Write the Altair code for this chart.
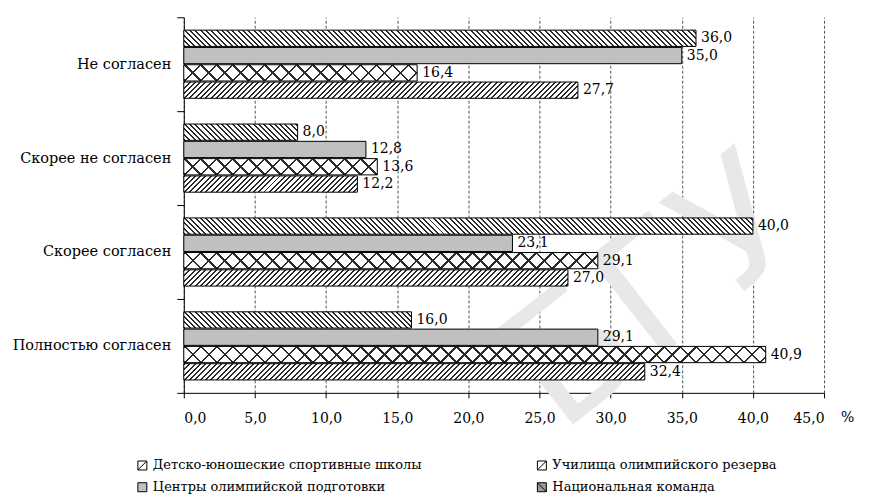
import altair as alt
import pandas as pd

# ---- data ----
categories = ["Не согласен", "Скорее не согласен", "Скорее согласен", "Полностью согласен"]
series_order = [
    "Национальная команда",
    "Центры олимпийской подготовки",
    "Училища олимпийского резерва",
    "Детско-юношеские спортивные школы",
]
# legend entries (laid out column by column)
legend_order = [
    "Детско-юношеские спортивные школы",
    "Центры олимпийской подготовки",
    "Училища олимпийского резерва",
    "Национальная команда",
]
nk = [36.0, 8.0, 40.0, 16.0]
cop = [35.0, 12.8, 23.1, 29.1]
uor = [16.4, 13.6, 29.1, 40.9]
dyussh = [27.7, 12.2, 27.0, 32.4]
x_ticks = [0, 5, 10, 15, 20, 25, 30, 35, 40, 45]
watermark = ["БГУ"]

rows = []
for s, vals in zip(series_order, [nk, cop, uor, dyussh]):
    for c, v in zip(categories, vals):
        rows.append({"cat": c, "series": s, "value": v})
df = pd.DataFrame(rows)

# ---- layout ----
PLOT_W, PLOT_H = 641, 376
X_MAX = 45
FONT = "DejaVu Serif"
PAD_IN, PAD_OUT = 0.06, 0.745
band = PLOT_H / len(categories)
step = band / (len(series_order) - PAD_IN + 2 * PAD_OUT)
BAR_H = step * (1 - PAD_IN)

x_scale = alt.Scale(domain=[0, X_MAX], nice=False, zero=True)
y_scale = alt.Scale(domain=categories, paddingInner=0, paddingOuter=0)
yo_scale = alt.Scale(domain=series_order, paddingInner=PAD_IN, paddingOuter=PAD_OUT)


def hatch(width_px, period, dark_w, dark, light, kind):
    W, H = max(width_px, 1.0), BAR_H
    L = W + H
    c = L / (W * W + H * H)
    if kind == "fwd":
        x1, y1, x2, y2 = 0, 0, c * W, c * H
    else:
        x1, y1, x2, y2 = 0, 1, c * W, 1 - c * H
    stops = []
    k = 0
    while k * period < L:
        a = k * period / L
        b = min((k * period + dark_w) / L, 1.0)
        stops += [(a, light), (a, dark), (b, dark), (b, light)]
        k += 1
    return alt.LinearGradient(
        gradient="linear", x1=x1, y1=y1, x2=x2, y2=y2,
        stops=[alt.GradientStop(offset=round(o, 5), color=col) for o, col in stops],
    )


def enc(ch):
    return ch.encode(
        x=alt.X("value:Q", scale=x_scale,
                axis=alt.Axis(values=x_ticks, grid=True, gridDash=[3, 2], gridColor="#555555",
                              labelExpr="replace(format(datum.value, '.1f'), '.', ',')",
                              tickSize=5, labelPadding=14, title="%", titleAngle=0,
                              titleX=664, titleY=18, titleAlign="center", titleBaseline="top",
                              titleFont=FONT, titleFontSize=14, titleFontWeight="normal",
                              titleColor="black")),
        y=alt.Y("cat:N", scale=y_scale, sort=categories,
                axis=alt.Axis(title=None, tickBand="extent", tickSize=7, labelPadding=6,
                              grid=False, labelFontSize=14.5)),
        yOffset=alt.YOffset("series:N", scale=yo_scale, sort=series_order),
    )


layers = []
# faint scan watermark behind the chart
layers.append(
    alt.Chart(pd.DataFrame({"t": watermark})).mark_text(
        font="DejaVu Sans", fontSize=168, color="#e8e8e8", angle=322,
        align="center", baseline="middle",
    ).encode(x=alt.value(472), y=alt.value(280), text="t:N")
)
# white base for all bars
layers.append(enc(alt.Chart(df).mark_bar(fill="white", strokeWidth=0)))
# solid gray series
layers.append(enc(alt.Chart(df).transform_filter(
    alt.datum.series == series_order[1]).mark_bar(fill="#c0c0c0", strokeWidth=0)))

TRANSP = "rgba(0,0,0,0)"
for s, vals in zip(series_order, [nk, cop, uor, dyussh]):
    for c, v in zip(categories, vals):
        w = v / X_MAX * PLOT_W
        grads = []
        if s == series_order[0]:
            grads = [hatch(w, 5.3, 2.0, "#2a2a2a", "white", "back")]
        elif s == series_order[3]:
            grads = [hatch(w, 5.3, 2.0, "#2a2a2a", "white", "fwd")]
        elif s == series_order[2]:
            grads = [hatch(w, 16, 2.4, "#2a2a2a", TRANSP, "fwd"),
                     hatch(w, 16, 2.4, "#2a2a2a", TRANSP, "back")]
        for g in grads:
            layers.append(enc(alt.Chart(df).transform_filter(
                (alt.datum.series == s) & (alt.datum.cat == c)).mark_bar(fill=g, strokeWidth=0)))

# outlines
layers.append(enc(alt.Chart(df).mark_bar(fill="transparent", stroke="black", strokeWidth=1)))

# value labels
layers.append(enc(alt.Chart(df).transform_calculate(
    label="replace(format(datum.value, '.1f'), '.', ',')").mark_text(
    align="left", baseline="middle", dx=5, font=FONT, fontSize=14, color="black")).encode(text="label:N"))

# hidden layer carrying the legend
sq = "M-1,-1H1V1H-1Z"
path_fwd = sq + "M-1,1L1,-1"
path_back = sq + "M-1,-1L1,1"
leg = alt.Legend(title=None, symbolOpacity=1, symbolStrokeWidth=1)
layers.append(
    alt.Chart(df).mark_point(filled=False, opacity=0, strokeWidth=1).encode(
        x=alt.X("value:Q", scale=x_scale),
        y=alt.Y("cat:N", scale=y_scale, sort=categories),
        fill=alt.Fill("series:N", scale=alt.Scale(domain=legend_order,
                      range=["white", "#c0c0c0", "white", "#9a9a9a"]), legend=leg),
        shape=alt.Shape("series:N", scale=alt.Scale(domain=legend_order,
                        range=[path_fwd, sq, path_fwd, path_back]), legend=leg),
        stroke=alt.Stroke("series:N", scale=alt.Scale(domain=legend_order,
                          range=["black", "black", "black", "black"]), legend=leg),
    )
)

chart = alt.layer(*layers).properties(
    width=PLOT_W, height=PLOT_H,
    autosize=alt.AutoSizeParams(type="none"),
    padding={"left": 176, "top": 9, "right": 40, "bottom": 103},
).configure_view(stroke=None).configure_axis(
    labelFont=FONT, labelFontSize=14, labelColor="black",
    domainColor="black", tickColor="black", domainWidth=1, tickWidth=1,
).configure_legend(
    orient="none", legendX=-48, legendY=442, columns=2, columnPadding=113, rowPadding=8,
    labelFont=FONT, labelFontSize=13, labelColor="black", labelOffset=4,
    symbolSize=81, symbolStrokeWidth=1, symbolOpacity=1,
    labelLimit=400,
)

chart.save("out.html", embed_options={"renderer": "svg", "actions": False})
